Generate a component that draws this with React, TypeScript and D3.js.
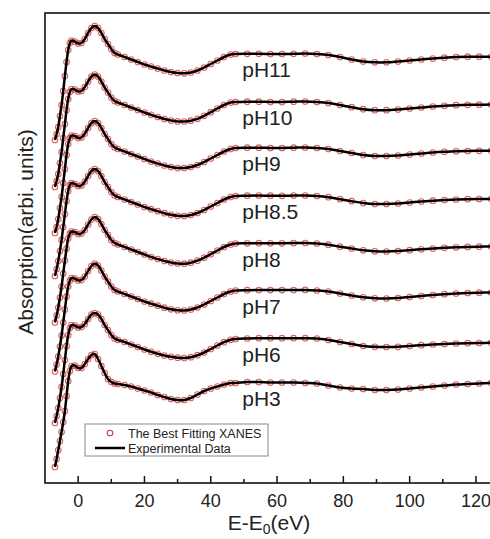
import React from "react";
import * as d3 from "d3";

// energy grid (eV, relative to E0)
const energy = [
  -7, -6.5, -6, -5.5, -5, -4.5, -4, -3.5, -3, -2.5, -2,
  -1, 0, 1, 2, 3, 4, 5, 6, 7, 8, 9, 10, 11, 12,
  14, 16, 18, 20, 22, 24, 26, 28, 30, 32, 34, 36, 38, 40, 42, 44, 46,
  47.5, 51, 54.5, 58, 61.5, 65, 68.5, 72, 75.5, 79, 82.5, 86, 89.5, 93, 96.5, 100,
  103.5, 107, 110.5, 114, 117.5, 121, 124.5,
];

const phLabels = ["pH11", "pH10", "pH9", "pH8.5", "pH8", "pH7", "pH6", "pH3"];
// vertical offsets used to stack the spectra
const offsets = [3.29, 2.81, 2.35, 1.87, 1.395, 0.925, 0.44, 0];

const absPH11 = [
  0.14, 0.2, 0.27, 0.38, 0.49, 0.63, 0.78, 0.92, 1.04, 1.11, 1.135,
  1.125, 1.105, 1.11, 1.15, 1.21, 1.26, 1.28, 1.26, 1.21, 1.15, 1.1, 1.05, 1.01, 0.995,
  0.97, 0.945, 0.92, 0.895, 0.875, 0.855, 0.835, 0.82, 0.81, 0.807, 0.815, 0.835, 0.865, 0.9, 0.935, 0.97, 0.995,
  1.0, 1.002, 1.002, 1.0, 1.0, 1.002, 1.005, 1.0, 0.99, 0.97, 0.945, 0.925, 0.917, 0.917, 0.925, 0.935,
  0.945, 0.955, 0.963, 0.97, 0.973, 0.973, 0.973,
];
const absPH10 = [
  0.15, 0.21, 0.28, 0.39, 0.5, 0.64, 0.78, 0.92, 1.03, 1.1, 1.13,
  1.125, 1.105, 1.11, 1.15, 1.205, 1.255, 1.275, 1.255, 1.205, 1.145, 1.095, 1.045, 1.01, 0.995,
  0.97, 0.945, 0.92, 0.895, 0.872, 0.85, 0.83, 0.815, 0.806, 0.805, 0.813, 0.832, 0.862, 0.898, 0.935, 0.97, 0.995,
  1.0, 1.003, 1.003, 1.0, 1.0, 1.003, 1.005, 1.0, 0.99, 0.97, 0.948, 0.928, 0.918, 0.918, 0.925, 0.935,
  0.945, 0.955, 0.962, 0.968, 0.972, 0.973, 0.975,
];
const absPH9 = [
  0.15, 0.21, 0.29, 0.4, 0.51, 0.65, 0.79, 0.93, 1.04, 1.1, 1.125,
  1.12, 1.1, 1.105, 1.145, 1.2, 1.25, 1.27, 1.25, 1.2, 1.14, 1.09, 1.04, 1.005, 0.99,
  0.965, 0.94, 0.915, 0.89, 0.865, 0.845, 0.825, 0.81, 0.8, 0.8, 0.81, 0.83, 0.86, 0.895, 0.93, 0.965, 0.99,
  1.0, 1.003, 1.003, 1.0, 1.0, 1.003, 1.005, 1.0, 0.99, 0.97, 0.95, 0.93, 0.92, 0.92, 0.925, 0.935,
  0.945, 0.955, 0.962, 0.967, 0.97, 0.972, 0.972,
];
const absPH85 = [
  0.2, 0.27, 0.35, 0.45, 0.56, 0.69, 0.82, 0.95, 1.05, 1.11, 1.13,
  1.12, 1.1, 1.105, 1.145, 1.2, 1.25, 1.27, 1.25, 1.2, 1.14, 1.09, 1.04, 1.005, 0.99,
  0.965, 0.94, 0.915, 0.89, 0.868, 0.848, 0.828, 0.812, 0.802, 0.8, 0.81, 0.83, 0.86, 0.895, 0.93, 0.965, 0.99,
  1.0, 1.003, 1.004, 1.003, 1.002, 1.004, 1.005, 1.0, 0.988, 0.968, 0.948, 0.93, 0.92, 0.92, 0.925, 0.935,
  0.945, 0.953, 0.96, 0.965, 0.968, 0.97, 0.97,
];
const absPH8 = [
  0.21, 0.28, 0.36, 0.46, 0.57, 0.7, 0.83, 0.95, 1.05, 1.1, 1.12,
  1.115, 1.095, 1.1, 1.135, 1.19, 1.24, 1.265, 1.245, 1.195, 1.135, 1.085, 1.035, 1.005, 0.99,
  0.965, 0.94, 0.915, 0.89, 0.865, 0.845, 0.825, 0.81, 0.8, 0.798, 0.808, 0.828, 0.858, 0.893, 0.93, 0.965, 0.99,
  1.0, 1.002, 1.003, 1.002, 1.002, 1.004, 1.005, 1.0, 0.988, 0.968, 0.95, 0.932, 0.922, 0.92, 0.925, 0.933,
  0.942, 0.95, 0.957, 0.962, 0.966, 0.968, 0.97,
];
const absPH7 = [
  0.19, 0.26, 0.34, 0.44, 0.55, 0.68, 0.81, 0.94, 1.04, 1.1, 1.125,
  1.12, 1.1, 1.105, 1.14, 1.195, 1.245, 1.27, 1.25, 1.2, 1.14, 1.09, 1.04, 1.005, 0.99,
  0.965, 0.94, 0.915, 0.89, 0.868, 0.848, 0.828, 0.812, 0.802, 0.8, 0.81, 0.83, 0.86, 0.895, 0.93, 0.965, 0.99,
  1.0, 1.003, 1.005, 1.004, 1.004, 1.005, 1.006, 1.0, 0.99, 0.97, 0.95, 0.932, 0.922, 0.92, 0.925, 0.935,
  0.945, 0.955, 0.963, 0.97, 0.975, 0.978, 0.98,
];
const absPH6 = [
  0.16, 0.23, 0.31, 0.41, 0.52, 0.65, 0.79, 0.93, 1.04, 1.11, 1.14,
  1.135, 1.115, 1.12, 1.15, 1.2, 1.245, 1.26, 1.245, 1.2, 1.14, 1.09, 1.04, 1.005, 0.99,
  0.97, 0.945, 0.92, 0.895, 0.872, 0.852, 0.835, 0.822, 0.813, 0.81, 0.818, 0.838, 0.865, 0.9, 0.935, 0.968, 0.992,
  1.0, 1.005, 1.008, 1.008, 1.008, 1.008, 1.008, 1.005, 0.99, 0.97, 0.95, 0.93, 0.922, 0.92, 0.922, 0.93,
  0.938, 0.945, 0.95, 0.955, 0.958, 0.96, 0.962,
];
const absPH3 = [
  0.16, 0.24, 0.33, 0.42, 0.51, 0.61, 0.72, 0.87, 1.02, 1.12, 1.17,
  1.175, 1.15, 1.15, 1.19, 1.24, 1.28, 1.29, 1.24, 1.17, 1.1, 1.04, 1.01, 0.995, 0.99,
  0.98, 0.965, 0.945, 0.925, 0.905, 0.88, 0.86, 0.84, 0.83, 0.83, 0.85, 0.885, 0.92, 0.945, 0.965, 0.985, 1.0,
  1.0, 1.01, 1.01, 1.005, 1.005, 1.005, 1.0, 0.995, 0.975, 0.955, 0.945, 0.94, 0.93, 0.93, 0.935, 0.945,
  0.955, 0.965, 0.975, 0.985, 0.99, 0.995, 1.0,
];

const spectra = [absPH11, absPH10, absPH9, absPH85, absPH8, absPH7, absPH6, absPH3];

const majorTicks = [0, 20, 40, 60, 80, 100, 120];
const minorTicks = [10, 30, 50, 70, 90, 110];

const W = 490;
const H = 539;
const FONT = "Arial, 'Liberation Sans', Helvetica, sans-serif";

export default function App() {
  const left = 45;
  const top = 13;
  const bottom = 483;

  const x = d3.scaleLinear().domain([-10, 130]).range([left, left + 140 * 3.315]);
  const y = d3.scaleLinear().domain([0, 4.7]).range([bottom, top]);

  const line = d3
    .line<number>()
    .x((_, i) => x(energy[i]))
    .y((d) => y(d))
    .curve(d3.curveCatmullRom.alpha(0.5));

  return (
    <svg
      width={W}
      height={H}
      style={{ position: "absolute", left: 0, top: 0, background: "#fff" }}
      fontFamily={FONT}
    >
      <defs>
        <clipPath id="plot">
          <rect x={left} y={top} width={W - left} height={bottom - top} />
        </clipPath>
      </defs>

      {/* frame */}
      <rect
        x={left}
        y={top}
        width={x(130) - left}
        height={bottom - top}
        fill="none"
        stroke="#111"
        strokeWidth={1.6}
      />

      {/* ticks, pointing inward */}
      {majorTicks.map((t) => (
        <g key={"M" + t}>
          <line x1={x(t)} x2={x(t)} y1={bottom} y2={bottom - 7} stroke="#111" strokeWidth={1.5} />
          <text x={x(t)} y={bottom + 24} textAnchor="middle" fontSize={18} fill="#222">
            {t}
          </text>
        </g>
      ))}
      {minorTicks.map((t) => (
        <line key={"m" + t} x1={x(t)} x2={x(t)} y1={bottom} y2={bottom - 4} stroke="#111" strokeWidth={1.5} />
      ))}

      {/* spectra */}
      <g clipPath="url(#plot)">
        {spectra.map((s, k) => {
          const vals = s.map((v) => v + offsets[k]);
          return (
            <g key={phLabels[k]}>
              {vals.map((v, i) => (
                <circle
                  key={i}
                  cx={x(energy[i])}
                  cy={y(v)}
                  r={2.8}
                  fill="none"
                  stroke="#d63a3a"
                  strokeOpacity={0.8}
                  strokeWidth={1.1}
                />
              ))}
              <path d={line(vals) || ""} fill="none" stroke="#000" strokeWidth={2.5} />
            </g>
          );
        })}
      </g>

      {/* curve labels */}
      {phLabels.map((lab, k) => (
        <text key={lab} x={x(49.5)} y={y(offsets[k] + 1) + 23} fontSize={21} fill="#222">
          {lab}
        </text>
      ))}

      {/* legend */}
      <g>
        <rect x={85} y={424} width={183} height={32} fill="#fff" stroke="#888" strokeWidth={1} />
        <circle cx={110} cy={433} r={2.8} fill="none" stroke="#d63a3a" strokeWidth={1.1} />
        <text x={128} y={437.5} fontSize={12.5} fill="#222">
          The Best Fitting XANES
        </text>
        <line x1={95} x2={125} y1={448} y2={448} stroke="#000" strokeWidth={2.5} />
        <text x={128} y={452.5} fontSize={12.5} fill="#222">
          Experimental Data
        </text>
      </g>

      {/* axis titles */}
      <text x={269} y={530} textAnchor="middle" fontSize={21} fill="#222">
        E-E
        <tspan fontSize={14} dy={4}>
          0
        </tspan>
        <tspan dy={-4}>(eV)</tspan>
      </text>
      <text
        transform={`translate(33, 232) rotate(-90)`}
        textAnchor="middle"
        fontSize={21}
        fill="#222"
      >
        Absorption(arbi. units)
      </text>
    </svg>
  );
}
